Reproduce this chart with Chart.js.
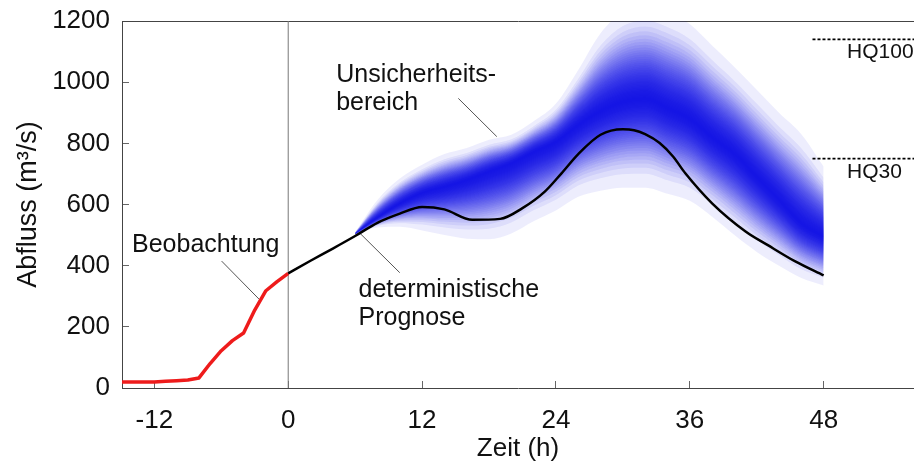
<!DOCTYPE html>
<html>
<head>
<meta charset="utf-8">
<script src="https://cdn.jsdelivr.net/npm/chart.js@4.4.1/dist/chart.umd.min.js"></script>
<style>
  html, body { margin: 0; padding: 0; background: #fff; }
  #wrap { width: 914px; height: 468px; position: relative; }
</style>
</head>
<body>
<div id="wrap"><canvas id="flowChart"></canvas></div>
<script>
// observed discharge (hours, m³/s)
const obsHours = [-15, -14, -13, -12, -11, -10, -9, -8, -7, -6, -5, -4, -3, -2, -1, 0];
const obsFlow  = [20, 20, 20, 20, 22, 24, 26, 33, 80, 122, 155, 180, 255, 318, 348, 375];

// deterministic forecast
const fcHours = [0, 2, 4, 6, 8, 10, 12, 14, 16.5, 19, 21, 23, 24.5, 26, 28, 30, 31, 32, 33.3, 34.5, 35.6, 38, 41, 43, 45.5, 48];
const fcFlow  = [375, 416, 456, 497, 540, 570, 592, 584, 550, 553, 588, 642, 702, 765, 828, 846, 843, 830, 801, 757, 702, 604, 512, 467, 413, 368];

// uncertainty range: densest part and outer edges
const bandHours = [6, 8, 10, 12, 14, 16, 18, 20, 22, 24, 26, 28, 30, 32, 34, 36, 38, 40, 42, 44, 46, 48];
const bandMid   = [505, 557, 603, 638, 658, 680, 708, 735, 772, 805, 860, 905, 935, 945, 915, 880, 820, 765, 690, 615, 538, 495];
const bandHigh  = [510, 615, 685, 730, 765, 785, 812, 828, 872, 930, 1040, 1160, 1230, 1250, 1230, 1190, 1120, 1050, 975, 900, 830, 724];
const bandLow   = [500, 525, 527, 515, 500, 488, 486, 505, 545, 580, 625, 645, 655, 655, 635, 612, 560, 500, 445, 400, 360, 335];

// flood marks
const hqNames = ['HQ100', 'HQ30'];
const hqFlow  = [1140, 750];
const hqFrom  = 47;
const hqTo    = 56.1;

// axes
const xTicks = [-12, 0, 12, 24, 36, 48];
const yTicks = [0, 200, 400, 600, 800, 1000, 1200];

const FONT = '"Liberation Sans", Arial, sans-serif';

// text labels + leader lines (data coordinates)
const notes = [
  { text: 'Beobachtung', x: -14.0, y: 445 },
  { text: 'Unsicherheits-', x: 4.3, y: 1002 },
  { text: 'bereich', x: 4.3, y: 909 },
  { text: 'deterministische', x: 6.3, y: 299 },
  { text: 'Prognose', x: 6.3, y: 206 }
];
const leaders = [
  [[-5.97, 415], [-2.6, 290]],
  [[15.25, 947], [18.7, 822]],
  [[6.43, 506], [10.0, 377]]
];

const toPts = (xs, ys) => xs.map((x, i) => ({ x: x, y: ys[i] }));

const datasets = [];

// main lines on top
datasets.push({
  data: toPts(fcHours, fcFlow), borderColor: '#000', borderWidth: 2.5,
  pointRadius: 0, cubicInterpolationMode: 'monotone', fill: false, order: 0
});
datasets.push({
  data: toPts(obsHours, obsFlow), borderColor: '#ee1b1b', borderWidth: 3.5,
  pointRadius: 0, tension: 0, fill: false, order: 0, borderJoinStyle: 'round'
});

// time of forecast
datasets.push({
  data: [{ x: 0, y: 0 }, { x: 0, y: 1200 }], borderColor: '#777', borderWidth: 1,
  pointRadius: 0, fill: false, order: 1
});

// leaders
leaders.forEach(l => {
  datasets.push({
    data: l.map(p => ({ x: p[0], y: p[1] })), borderColor: '#555', borderWidth: 1,
    pointRadius: 0, fill: false, order: 1
  });
});

// HQ marks
hqFlow.forEach(v => {
  datasets.push({
    data: [{ x: hqFrom, y: v }, { x: hqTo, y: v }], borderColor: '#000', borderWidth: 1.8,
    borderDash: [3, 2], pointRadius: 0, fill: false, order: 1
  });
});

// nested bands, stacked transparently -> blue gradient
const LEVELS = 40;
for (let m = 0; m < LEVELS; m++) {
  const f = 1 - Math.sqrt(m / LEVELS);
  const hi = bandHours.map((h, i) => ({ x: h, y: bandMid[i] + (bandHigh[i] - bandMid[i]) * f }));
  const lo = bandHours.map((h, i) => ({ x: h, y: bandMid[i] - (bandMid[i] - bandLow[i]) * f }));
  datasets.push({
    data: hi, borderWidth: 0, borderColor: 'rgba(0,0,0,0)', pointRadius: 0,
    cubicInterpolationMode: 'monotone', backgroundColor: 'rgba(0,0,225,0.072)',
    fill: '+1', order: 5
  });
  datasets.push({
    data: lo, borderWidth: 0, borderColor: 'rgba(0,0,0,0)', pointRadius: 0,
    cubicInterpolationMode: 'monotone', fill: false, order: 5
  });
}

const notesPlugin = {
  id: 'notes',
  afterDatasetsDraw(chart) {
    const ctx = chart.ctx;
    const xs = chart.scales.x, ys = chart.scales.y;
    ctx.save();
    ctx.fillStyle = '#111';
    ctx.textAlign = 'left';
    ctx.textBaseline = 'alphabetic';
    ctx.font = '25px ' + FONT;
    notes.forEach(n => {
      ctx.fillText(n.text, xs.getPixelForValue(n.x), ys.getPixelForValue(n.y));
    });
    ctx.font = '21px ' + FONT;
    hqNames.forEach((name, i) => {
      ctx.fillText(name, xs.getPixelForValue(50.1), ys.getPixelForValue(hqFlow[i]) + 19);
    });
    ctx.restore();
  }
};

// keep the plot frame fixed, labels may overflow
const noPad = s => { s.paddingTop = 0; s.paddingBottom = 0; s.paddingLeft = 0; s.paddingRight = 0; };

new Chart(document.getElementById('flowChart'), {
  type: 'line',
  data: { datasets: datasets },
  options: {
    responsive: true,
    maintainAspectRatio: false,
    animation: false,
    layout: { padding: 0 },
    plugins: { legend: { display: false }, tooltip: { enabled: false } },
    scales: {
      x: {
        type: 'linear', position: 'bottom', min: -14.9, max: 56.1,
        afterBuildTicks: s => { s.ticks = xTicks.map(v => ({ value: v })); },
        afterFit: s => { s.height = 80; noPad(s); },
        grid: { display: true, drawOnChartArea: false, tickLength: -7, color: '#666' },
        border: { display: true, color: '#444', width: 1 },
        ticks: { color: '#111', font: { family: FONT, size: 26 }, padding: 24, maxRotation: 0 },
        title: { display: true, text: 'Zeit (h)', color: '#111', font: { family: FONT, size: 26 }, padding: { top: 0, bottom: 4 } }
      },
      x2: {
        type: 'linear', position: 'top', min: -14.9, max: 56.1, display: true,
        afterFit: s => { s.height = 21; noPad(s); },
        grid: { display: false },
        border: { display: true, color: '#444', width: 1 },
        ticks: { display: false }
      },
      y: {
        type: 'linear', min: 0, max: 1200,
        afterBuildTicks: s => { s.ticks = yTicks.map(v => ({ value: v })); },
        afterFit: s => { s.width = 122; noPad(s); },
        grid: { display: true, drawOnChartArea: false, tickLength: -7, color: '#666' },
        border: { display: true, color: '#444', width: 1 },
        ticks: { color: '#111', font: { family: FONT, size: 26 }, padding: 19, callback: v => String(v) },
        title: { display: true, text: 'Abfluss (m³/s)', color: '#111', font: { family: FONT, size: 27 }, padding: { top: 12, bottom: 0 } }
      }
    }
  },
  plugins: [notesPlugin]
});
</script>
</body>
</html>
